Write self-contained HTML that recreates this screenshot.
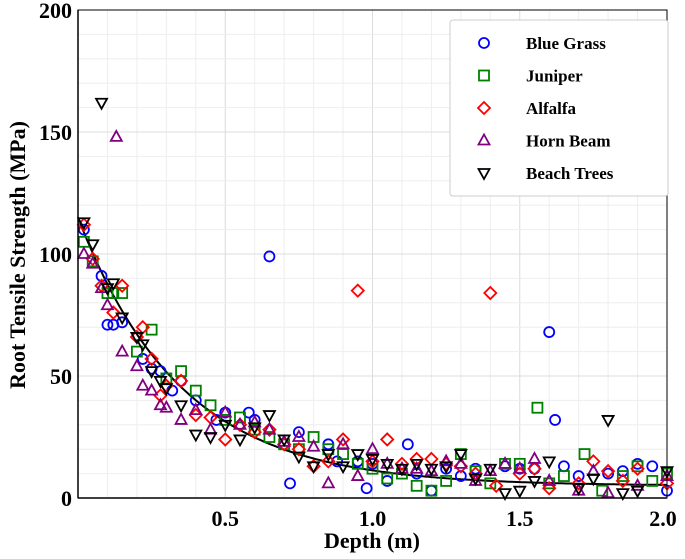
<!DOCTYPE html>
<html><head><meta charset="utf-8"><style>
body{margin:0;background:#fff;}
svg{display:block;font-family:"Liberation Serif",serif;font-weight:bold;}
</style></head><body>
<svg id="chart" width="685" height="559" viewBox="0 0 685 559" xmlns="http://www.w3.org/2000/svg">
<g id="grid"></g>
<g id="fit"></g>
<g id="marks"></g>
<g id="axes"></g>
<text transform="translate(25,255) rotate(-90)" text-anchor="middle" font-size="22">Root Tensile Strength (MPa)</text>
<text x="372" y="548" text-anchor="middle" font-size="22">Depth (m)</text>
<g id="legend"></g>
</svg>
<script>
const xTicks=[0.5,1.0,1.5,2.0];
const xTickLabels=["0.5","1.0","1.5","2.0"];
const yTicks=[0,50,100,150,200];
const yTickLabels=["0","50","100","150","200"];
const seriesNames=["Blue Grass","Juniper","Alfalfa","Horn Beam","Beach Trees"];
const blueX=[0.02,0.08,0.1,0.12,0.15,0.22,0.25,0.28,0.32,0.35,0.4,0.47,0.5,0.58,0.6,0.65,0.72,0.75,0.85,0.88,0.95,0.98,1.0,1.05,1.12,1.15,1.2,1.25,1.3,1.35,1.45,1.5,1.55,1.6,1.62,1.65,1.7,1.8,1.85,1.9,1.95,2.0];
const blueY=[110,91,71,71,72,57,53,52,44,48,40,32,35,35,32,99,6,27,22,15,15,4,14,7,22,10,3,12,9,12,13,12,12,68,32,13,9,10,11,14,13,3];
const greenX=[0.02,0.05,0.1,0.12,0.15,0.2,0.25,0.3,0.35,0.4,0.45,0.5,0.55,0.6,0.65,0.7,0.75,0.8,0.85,0.9,0.95,1.0,1.05,1.1,1.15,1.2,1.25,1.3,1.35,1.4,1.45,1.5,1.56,1.6,1.65,1.72,1.78,1.85,1.9,1.95,2.0];
const greenY=[105,97,84,84,84,60,69,49,52,44,38,32,33,28,25,22,20,25,20,18,14,12,8,10,5,3,7,18,11,6,14,14,37,6,9,18,3,9,13,7,10];
const redX=[0.02,0.05,0.08,0.12,0.15,0.2,0.22,0.25,0.28,0.3,0.35,0.4,0.45,0.5,0.55,0.6,0.65,0.7,0.75,0.8,0.85,0.9,0.95,1.0,1.05,1.1,1.15,1.2,1.25,1.3,1.35,1.4,1.42,1.5,1.55,1.6,1.7,1.75,1.8,1.85,1.9,2.0];
const redY=[112,98,87,76,87,66,70,57,42,46,48,34,33,24,30,27,28,22,20,13,15,24,85,15,24,14,16,16,14,13,10,84,5,10,12,4,6,15,11,7,12,6];
const purpleX=[0.02,0.05,0.08,0.1,0.13,0.15,0.2,0.22,0.25,0.28,0.3,0.35,0.4,0.45,0.5,0.55,0.6,0.65,0.7,0.75,0.8,0.85,0.9,0.95,1.0,1.05,1.1,1.15,1.2,1.25,1.3,1.35,1.4,1.45,1.5,1.55,1.6,1.7,1.75,1.8,1.9,2.0];
const purpleY=[100,96,86,79,148,60,54,46,44,38,37,32,36,28,35,30,31,28,23,25,21,6,22,9,20,14,12,12,11,15,14,7,11,14,12,16,7,3,11,2,5,9];
const blackX=[0.02,0.05,0.08,0.1,0.12,0.15,0.2,0.22,0.25,0.28,0.3,0.35,0.4,0.45,0.5,0.55,0.6,0.65,0.7,0.75,0.8,0.85,0.9,0.95,1.0,1.05,1.1,1.15,1.2,1.25,1.3,1.35,1.4,1.45,1.5,1.55,1.6,1.7,1.75,1.8,1.85,1.9,2.0];
const blackY=[113,104,162,86,88,74,66,63,52,48,45,38,26,25,30,24,29,34,24,17,13,18,13,18,16,14,12,14,12,13,18,8,12,2,3,7,15,4,8,32,2,3,11];
const fitA=110, fitTau=0.35, fitC=5;

const NS="http://www.w3.org/2000/svg";
const L=78,R=667,T=10,B=498;
const sx=v=>L+(v/2)*(R-L);
const sy=v=>B-(v/200)*(B-T);
function mk(tag,attrs,parent){const e=document.createElementNS(NS,tag);for(const k in attrs)e.setAttribute(k,attrs[k]);parent.appendChild(e);return e;}
const grid=document.getElementById('grid');
for(let i=1;i<20;i++){const x=sx(i*0.1);
 const g=mk('line',{x1:x,x2:x,y1:T,y2:B,stroke:i%5==0?'#dcdcdc':'#eeeeee','stroke-width':1},grid);
 }
for(let i=1;i<20;i++){const y=sy(i*10);
 const g=mk('line',{x1:L,x2:R,y1:y,y2:y,stroke:i%5==0?'#dcdcdc':'#eeeeee','stroke-width':1},grid);
 }
const axes=document.getElementById('axes');
const fr=mk('rect',{x:L,y:T,width:R-L,height:B-T,fill:'none',stroke:'#000','stroke-width':1},axes);

const ax=mk('line',{x1:L,x2:R,y1:B,y2:B,stroke:'#000','stroke-width':1.5},axes);

const ay=mk('line',{x1:L,x2:L,y1:T,y2:B,stroke:'#000','stroke-width':1.5},axes);

xTicks.forEach((v,i)=>{const t=mk('text',{x:sx(v)-(i==3?4:0),y:526,'text-anchor':'middle','font-size':22},axes);t.textContent=xTickLabels[i];
 });
yTicks.forEach((v,i)=>{const t=mk('text',{x:72,y:sy(v)+8,'text-anchor':'end','font-size':22},axes);t.textContent=yTickLabels[i];
 });
// fit curve
let d='';for(let i=0;i<=200;i++){const x=0.01*i;const y=fitC+fitA*Math.exp(-x/fitTau);d+=(i?'L':'M')+sx(x).toFixed(1)+' '+sy(y).toFixed(1);}
const fp=mk('path',{d:d,fill:'none',stroke:'#000','stroke-width':2},document.getElementById('fit'));

function marker(type,x,y,parent){
 const s=5;let e;
 if(type==0)e=mk('circle',{cx:x,cy:y,r:s,fill:'none',stroke:'#0000ff','stroke-width':1.8},parent);
 else if(type==1)e=mk('rect',{x:x-s,y:y-s,width:2*s,height:2*s,fill:'none',stroke:'#008000','stroke-width':1.8},parent);
 else if(type==2)e=mk('polygon',{points:`${x},${y-6} ${x+6},${y} ${x},${y+6} ${x-6},${y}`,fill:'none',stroke:'#ff0000','stroke-width':1.8},parent);
 else if(type==3)e=mk('polygon',{points:`${x},${y-6} ${x+5.5},${y+4} ${x-5.5},${y+4}`,fill:'none',stroke:'#800080','stroke-width':1.8},parent);
 else e=mk('polygon',{points:`${x},${y+6} ${x+5.5},${y-4} ${x-5.5},${y-4}`,fill:'none',stroke:'#000','stroke-width':1.8},parent);
 return e;}
const marks=document.getElementById('marks');
const sets=[[blueX,blueY],[greenX,greenY],[redX,redY],[purpleX,purpleY],[blackX,blackY]];
const names=['blue-grass-point','juniper-point','alfalfa-point','horn-beam-point','beach-trees-point'];
sets.forEach((s,k)=>{s[0].forEach((xv,i)=>{const e=marker(k,sx(xv),sy(s[1][i]),marks);
 
 });});
// legend
const lg=document.getElementById('legend');
const lb=mk('rect',{x:450,y:20,width:218,height:176,fill:'#fff',stroke:'#ccc','stroke-width':1,rx:3},lg);

seriesNames.forEach((n,k)=>{const y=43+k*32.5;const m=marker(k,484,y,lg);
 
 const t=mk('text',{x:526,y:y+6,'font-size':17},lg);t.textContent=n;
 });
</script>
</body></html>
